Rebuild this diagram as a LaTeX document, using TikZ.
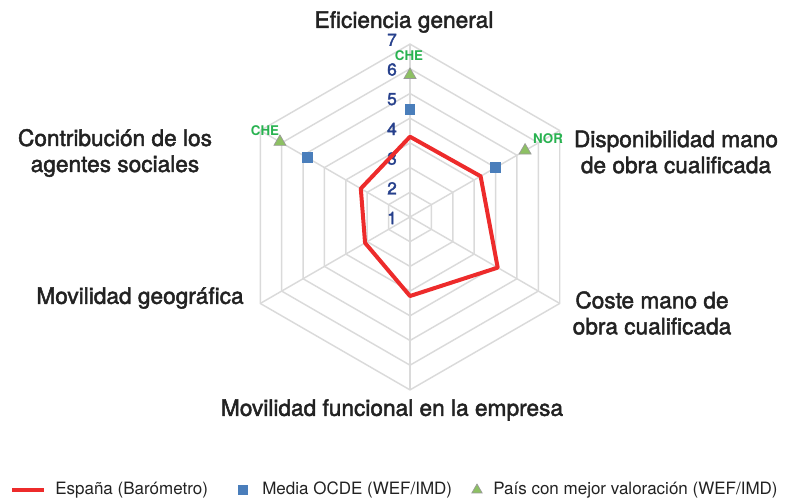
\documentclass[tikz,border=0pt]{standalone}
\usepackage{fontspec}
\setmainfont{TeX Gyre Heros}
\newfontfamily\labelfont{TeX Gyre Heros}[FakeBold=2]
\usetikzlibrary{shapes.geometric}
\definecolor{gridgray}{RGB}{218,218,218}
\definecolor{spainred}{RGB}{237,43,43}
\definecolor{ocdeblue}{RGB}{74,126,187}
\definecolor{bestgreen}{RGB}{141,192,99}
\definecolor{codegreen}{RGB}{40,178,80}
\definecolor{tickblue}{RGB}{38,64,140}
\definecolor{textgray}{RGB}{34,34,34}

\begin{document}
\begin{tikzpicture}[x=0.75pt,y=0.75pt,
  grid line/.style={draw=gridgray,line width=1.1pt},
  spain line/.style={draw=spainred,line width=3pt,line join=round},
  cat label/.style={font=\labelfont\fontsize{17}{19.5}\selectfont,align=center,text=textgray},
  tick label/.style={font=\labelfont\fontsize{13}{15}\selectfont,text=tickblue,inner sep=0pt},
  code label/.style={font=\bfseries\fontsize{10}{11}\selectfont,text=codegreen,inner sep=0pt},
  ocde mark/.style={rectangle,fill=ocdeblue,minimum size=8pt,inner sep=0pt},
  best mark/.style={regular polygon,regular polygon sides=3,fill=bestgreen,draw=gray!80,line width=0.5pt,minimum size=10.5pt,inner sep=0pt},
  legend text/.style={font=\fontsize{12.75}{14}\selectfont,text=textgray,anchor=west,inner sep=0pt}]

  \useasboundingbox (0,0) rectangle (792,502);

  \begin{scope}[shift={(410,285)}]
    \coordinate (o) at (0,0);
    \foreach \a [count=\i] in {90,30,-30,-90,-150,150}
      \coordinate (ax\i) at (\a:172.9);

    \foreach \k [evaluate=\k as \r using \k*24.7] in {1,...,7}
      \draw[grid line] (90:\r) -- (30:\r) -- (-30:\r) -- (-90:\r) -- (-150:\r) -- (150:\r) -- cycle;
    \foreach \i in {1,...,6}
      \draw[grid line] (o) -- (ax\i);

    \foreach \k in {1,...,7}
      \node[tick label] (t\k) at (-18,{-1+(\k-1)*29.7}) {\k};

    \foreach \a/\v [count=\i] in {90/3.25,30/3.3,-30/4.1,-90/3.2,-150/2.1,150/2.3}
      \coordinate (e\i) at (\a:\v*24.7);
    \draw[spain line] (e1) -- (e2) -- (e3) -- (e4) -- (e5) -- (e6) -- cycle;

    \node[ocde mark] (m1) at (90:4.35*24.7) {};
    \node[ocde mark] (m2) at (30:4.0*24.7) {};
    \node[ocde mark] (m6) at (150:4.8*24.7) {};

    \node[best mark] (b1) at (90:5.75*24.7) {};
    \node[best mark] (b2) at (30:5.38*24.7) {};
    \node[best mark] (b6) at (150:6.08*24.7) {};
  \end{scope}

  \node[code label] (c1) at (409,446) {CHE};
  \node[code label] (c2) at (548,363) {NOR};
  \node[code label] (c6) at (265,371) {CHE};

  \node[cat label] (l1) at (404,480) {Eficiencia general};
  \node[cat label] (l2) at (676,350) {Disponibilidad mano\\de obra cualificada};
  \node[cat label] (l3) at (652,189) {Coste mano de\\obra cualificada};
  \node[cat label] (l4) at (392,92) {Movilidad funcional en la empresa};
  \node[cat label] (l5) at (140,204) {Movilidad geográfica};
  \node[cat label] (l6) at (115,349) {Contribución de los\\agentes sociales};

  \coordinate (ka) at (12,12);
  \coordinate (kb) at (44,12);
  \draw[draw=spainred,line width=3.5pt] (ka) -- (kb);
  \node[legend text] (k1) at (55,12) {España (Barómetro)};
  \node[ocde mark,minimum size=7.5pt] (k2m) at (243,12) {};
  \node[legend text] (k2) at (262,12) {Media OCDE (WEF/IMD)};
  \node[best mark,minimum size=9pt] (k3m) at (477,12) {};
  \node[legend text] (k3) at (493,12) {País con mejor valoración (WEF/IMD)};
\end{tikzpicture}
\end{document}
